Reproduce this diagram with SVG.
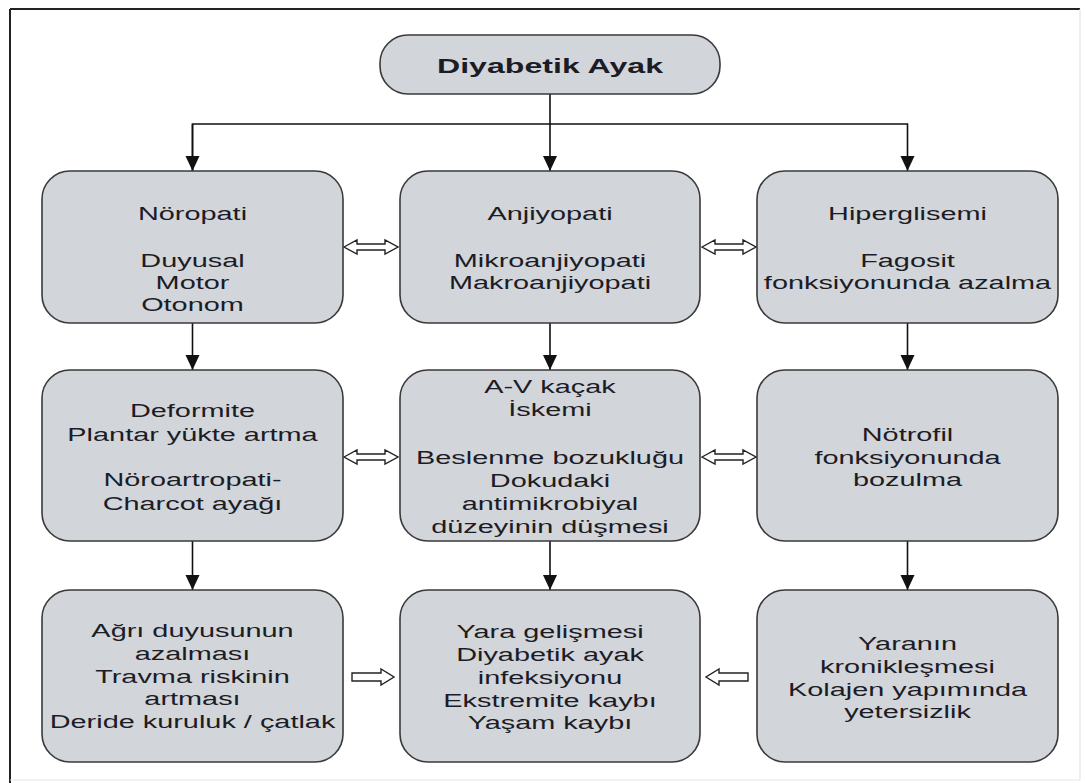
<svg xmlns="http://www.w3.org/2000/svg" width="1086" height="783" viewBox="0 0 1086 783">
<style>
.box{fill:#d2d5da;stroke:#3a3a3a;stroke-width:1.6}
.t{font-family:"Liberation Sans",Arial,sans-serif;font-size:19px;fill:#1c1c26;text-anchor:middle}
.tb{font-family:"Liberation Sans",Arial,sans-serif;font-size:21px;font-weight:bold;fill:#1c1c26;text-anchor:middle}
.ln{fill:none;stroke:#111;stroke-width:1.6}
.ha{fill:#fff;stroke:#222;stroke-width:1.4;stroke-linejoin:miter}
</style>
<defs>
<marker id="ah" markerUnits="userSpaceOnUse" markerWidth="16" markerHeight="16" viewBox="0 0 16 16" refX="15" refY="8" orient="auto">
<path d="M0,1 L15,8 L0,15 Z" fill="#111"/>
</marker>
<path id="dbl" d="M0,0 L13,-7 L13,-3 L41,-3 L41,-7 L54,0 L41,7 L41,3 L13,3 L13,7 Z"/>
<path id="rgt" d="M0,-4 L29,-4 L29,-8 L42,0 L29,8 L29,4 L0,4 Z"/>
</defs>
<rect width="1086" height="783" fill="#fff"/>
<g id="frame">
<line x1="10" y1="9" x2="1080" y2="9" stroke="#222" stroke-width="2"/>
<line x1="10" y1="9" x2="10" y2="783" stroke="#222" stroke-width="2"/>
<line x1="1080" y1="9" x2="1080" y2="780" stroke="#ddd" stroke-width="1"/>
<line x1="10" y1="780" x2="1080" y2="780" stroke="#e6e6e6" stroke-width="1"/>
</g>
<g id="connectors">
<line class="ln" x1="550" y1="94" x2="550" y2="171" marker-end="url(#ah)"/>
<polyline class="ln" points="192.5,171 192.5,124 907.5,124 907.5,171" marker-end="url(#ah)"/>
<line class="ln" x1="192.5" y1="124" x2="192.5" y2="171" marker-end="url(#ah)"/>
<line class="ln" x1="192.5" y1="323" x2="192.5" y2="370" marker-end="url(#ah)"/>
<line class="ln" x1="550" y1="323" x2="550" y2="370" marker-end="url(#ah)"/>
<line class="ln" x1="907.5" y1="323" x2="907.5" y2="370" marker-end="url(#ah)"/>
<line class="ln" x1="192.5" y1="541" x2="192.5" y2="590" marker-end="url(#ah)"/>
<line class="ln" x1="550" y1="541" x2="550" y2="590" marker-end="url(#ah)"/>
<line class="ln" x1="907.5" y1="541" x2="907.5" y2="590" marker-end="url(#ah)"/>
<use href="#dbl" class="ha" x="344" y="247"/>
<use href="#dbl" class="ha" x="702" y="247"/>
<use href="#dbl" class="ha" x="344" y="457"/>
<use href="#dbl" class="ha" x="702" y="457"/>
<use href="#rgt" class="ha" x="352" y="677"/>
<use href="#rgt" class="ha" transform="translate(1100 0) scale(-1 1)" x="352" y="677"/>
</g>
<g id="n-top">
<rect class="box" x="380" y="35" width="340" height="59" rx="28"/>
<g transform="translate(550 0) scale(1.53 1)"><text class="tb" x="0" y="73">Diyabetik Ayak</text></g>
</g>
<g id="n-noropati">
<rect class="box" x="42" y="171" width="301" height="152" rx="28"/>
<g transform="translate(192.5 0) scale(1.52 1)">
<text class="t" x="0" y="220">Nöropati</text>
<text class="t" x="0" y="267">Duyusal</text>
<text class="t" x="0" y="289">Motor</text>
<text class="t" x="0" y="311">Otonom</text>
</g>
</g>
<g id="n-anjiyopati">
<rect class="box" x="400" y="171" width="300" height="152" rx="28"/>
<g transform="translate(550 0) scale(1.52 1)">
<text class="t" x="0" y="220">Anjiyopati</text>
<text class="t" x="0" y="267">Mikroanjiyopati</text>
<text class="t" x="0" y="289">Makroanjiyopati</text>
</g>
</g>
<g id="n-hiperglisemi">
<rect class="box" x="757" y="171" width="301" height="152" rx="28"/>
<g transform="translate(907.5 0) scale(1.52 1)">
<text class="t" x="0" y="220">Hiperglisemi</text>
<text class="t" x="0" y="267">Fagosit</text>
<text class="t" x="0" y="289">fonksiyonunda azalma</text>
</g>
</g>
<g id="n-deformite">
<rect class="box" x="42" y="370" width="301" height="171" rx="28"/>
<g transform="translate(192.5 0) scale(1.52 1)">
<text class="t" x="0" y="417">Deformite</text>
<text class="t" x="0" y="441">Plantar yükte artma</text>
<text class="t" x="0" y="486">Nöroartropati-</text>
<text class="t" x="0" y="510">Charcot ayağı</text>
</g>
</g>
<g id="n-iskemi">
<rect class="box" x="400" y="370" width="300" height="171" rx="28"/>
<g transform="translate(550 0) scale(1.52 1)">
<text class="t" x="0" y="393">A-V kaçak</text>
<text class="t" x="0" y="416">İskemi</text>
<text class="t" x="0" y="464">Beslenme bozukluğu</text>
<text class="t" x="0" y="487">Dokudaki</text>
<text class="t" x="0" y="510">antimikrobiyal</text>
<text class="t" x="0" y="533">düzeyinin düşmesi</text>
</g>
</g>
<g id="n-notrofil">
<rect class="box" x="757" y="370" width="301" height="171" rx="28"/>
<g transform="translate(907.5 0) scale(1.52 1)">
<text class="t" x="0" y="441">Nötrofil</text>
<text class="t" x="0" y="464">fonksiyonunda</text>
<text class="t" x="0" y="486">bozulma</text>
</g>
</g>
<g id="n-agri">
<rect class="box" x="42" y="590" width="301" height="172" rx="28"/>
<g transform="translate(192.5 0) scale(1.52 1)">
<text class="t" x="0" y="637">Ağrı duyusunun</text>
<text class="t" x="0" y="660">azalması</text>
<text class="t" x="0" y="683">Travma riskinin</text>
<text class="t" x="0" y="705">artması</text>
<text class="t" x="0" y="728">Deride kuruluk / çatlak</text>
</g>
</g>
<g id="n-yara">
<rect class="box" x="400" y="590" width="300" height="172" rx="28"/>
<g transform="translate(550 0) scale(1.52 1)">
<text class="t" x="0" y="638">Yara gelişmesi</text>
<text class="t" x="0" y="661">Diyabetik ayak</text>
<text class="t" x="0" y="684">infeksiyonu</text>
<text class="t" x="0" y="707">Ekstremite kaybı</text>
<text class="t" x="0" y="729">Yaşam kaybı</text>
</g>
</g>
<g id="n-kronik">
<rect class="box" x="757" y="590" width="301" height="172" rx="28"/>
<g transform="translate(907.5 0) scale(1.52 1)">
<text class="t" x="0" y="650">Yaranın</text>
<text class="t" x="0" y="673">kronikleşmesi</text>
<text class="t" x="0" y="696">Kolajen yapımında</text>
<text class="t" x="0" y="718">yetersizlik</text>
</g>
</g>
</svg>
